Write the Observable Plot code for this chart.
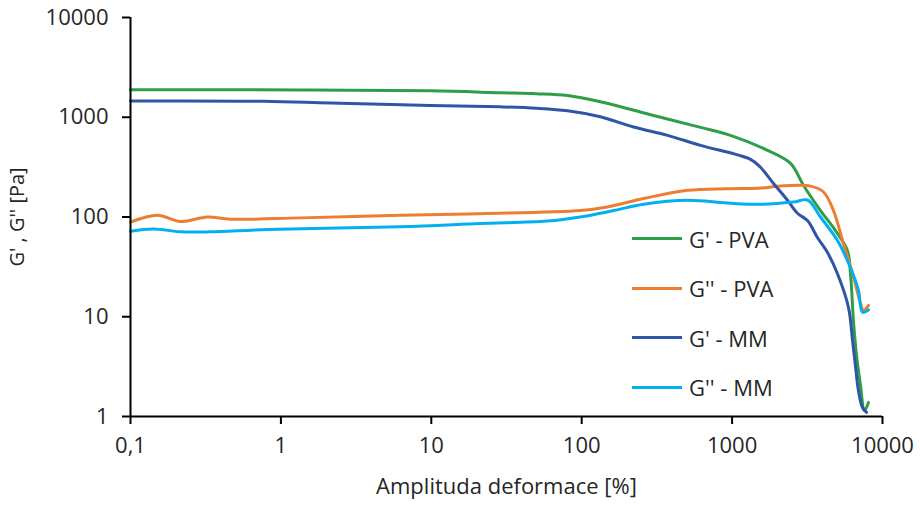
<!DOCTYPE html>
<html>
<head>
<meta charset="utf-8">
<script src="https://cdn.jsdelivr.net/npm/d3@7"></script>
<script src="https://cdn.jsdelivr.net/npm/@observablehq/plot@0.6"></script>
<style>
  html, body { margin: 0; padding: 0; background: #fff; }
  #wrap { position: relative; width: 920px; height: 505px; }
  #legend { position: absolute; left: 632px; top: 214px; font-family: "Open Sans", sans-serif; font-size: 22px; color: #262626; }
  #legend .row { display: flex; align-items: center; height: 49.5px; }
  #legend .sw { width: 50px; height: 3px; margin-right: 7px; }
</style>
</head>
<body>
<div id="wrap"><div id="legend"></div></div>
<script>
// ---- data (strain amplitude [%] vs modulus [Pa]) ----
const seriesNames = ["G' - PVA", "G'' - PVA", "G' - MM", "G'' - MM"];
const seriesColors = ["#2E9E48", "#ED7D31", "#2F55A4", "#00B0F0"];

const gPvaX = [0.1, 1.35, 9.9, 28.8, 50, 80.5, 133, 287, 617, 975, 1720, 2445, 2985, 3870, 4870, 5850, 6125, 6420, 6720, 7140, 7590, 8070];
const gPvaY = [1890, 1880, 1840, 1760, 1720, 1650, 1430, 1060, 792, 658, 466, 345, 207, 116, 73, 46, 27, 8.8, 4.1, 2.05, 1.15, 1.38];

const g2PvaX = [0.1, 0.151, 0.215, 0.325, 0.462, 1.35, 6.24, 21.2, 98, 148, 258, 505, 931, 1565, 2100, 3320, 4055, 4720, 5500, 6420, 7140, 7480, 8070];
const g2PvaY = [89, 104, 90, 100, 95, 98, 104, 108, 116, 126, 153, 185, 192, 195, 205, 204, 178, 116, 54, 25, 13.6, 11.6, 13.0];

const gMmX = [0.1, 0.766, 2.14, 9.9, 28.8, 50, 80.5, 133, 221, 372, 617, 1325, 1545, 1885, 2335, 2720, 3170, 3700, 4310, 5020, 5940, 6320, 6610, 6920, 7360, 7830];
const gMmY = [1455, 1445, 1387, 1315, 1271, 1230, 1160, 1010, 798, 658, 522, 378, 315, 217, 147, 109, 92, 62, 44, 27, 12.4, 5.8, 3.2, 1.82, 1.23, 1.10];

const g2MmX = [0.1, 0.142, 0.215, 0.34, 0.815, 6.24, 21.2, 59, 98, 163, 258, 505, 931, 1565, 2560, 3170, 3870, 5020, 6125, 6920, 7360, 8070];
const g2MmY = [72, 76, 71, 71, 75, 80, 86, 91, 100, 116, 134, 147, 138, 134, 141, 148, 100, 58, 31, 18.4, 11.1, 11.7];

const xTicks = [0.1, 1, 10, 100, 1000, 10000];
const xTickLabels = ["0,1", "1", "10", "100", "1000", "10000"];
const yTicks = [1, 10, 100, 1000, 10000];
const yTickLabels = ["1", "10", "100", "1000", "10000"];
const xTitle = "Amplituda deformace [%]";
const yTitle = "G' , G'' [Pa]";

// ---- build table ----
const seriesXs = [gPvaX, g2PvaX, gMmX, g2MmX];
const seriesYs = [gPvaY, g2PvaY, gMmY, g2MmY];
const rows = [];
seriesNames.forEach((name, i) => {
  seriesXs[i].forEach((x, j) => rows.push({series: name, x, y: seriesYs[i][j]}));
});

const axisFont = "'Open Sans', sans-serif";

const chart = Plot.plot({
  width: 920,
  height: 505,
  marginLeft: 130,
  marginRight: 38,
  marginTop: 17,
  marginBottom: 89,
  style: {fontFamily: axisFont, fontSize: "22px", color: "#262626", background: "#fff"},
  x: {type: "log", domain: [0.1, 10000]},
  y: {type: "log", domain: [1, 10000]},
  color: {domain: seriesNames, range: seriesColors},
  marks: [
    Plot.line(rows, {x: "x", y: "y", z: "series", stroke: "series", strokeWidth: 3, curve: "catmull-rom"}),
    Plot.ruleX([0.1], {stroke: "#000", strokeWidth: 2}),
    Plot.ruleY([1], {stroke: "#000", strokeWidth: 2}),
    Plot.axisY({ticks: yTicks, tickFormat: (d) => yTickLabels[yTicks.indexOf(d)], tickSize: 8, tickPadding: 14, strokeWidth: 2, stroke: "#000", label: null, fontSize: 22, fontFamily: axisFont}),
    Plot.axisX({ticks: xTicks, tickFormat: (d) => xTickLabels[xTicks.indexOf(d)], tickSize: 8, tickPadding: 13, strokeWidth: 2, stroke: "#000", label: null, fontSize: 22, fontFamily: axisFont}),
    Plot.text([xTitle], {frameAnchor: "bottom", dy: 77, fontSize: 22, fontFamily: axisFont, fill: "#262626"}),
    Plot.text([yTitle], {frameAnchor: "left", textAnchor: "middle", dx: -113, rotate: -90, fontSize: 20, fontFamily: axisFont, fill: "#262626"})
  ]
});

const wrap = document.getElementById("wrap");
wrap.insertBefore(chart, wrap.firstChild);

const legend = document.getElementById("legend");
seriesNames.forEach((name, i) => {
  const row = document.createElement("div");
  row.className = "row";
  const sw = document.createElement("span");
  sw.className = "sw";
  sw.style.background = seriesColors[i];
  const t = document.createElement("span");
  t.textContent = name;
  row.appendChild(sw);
  row.appendChild(t);
  legend.appendChild(row);
});
</script>
</body>
</html>
